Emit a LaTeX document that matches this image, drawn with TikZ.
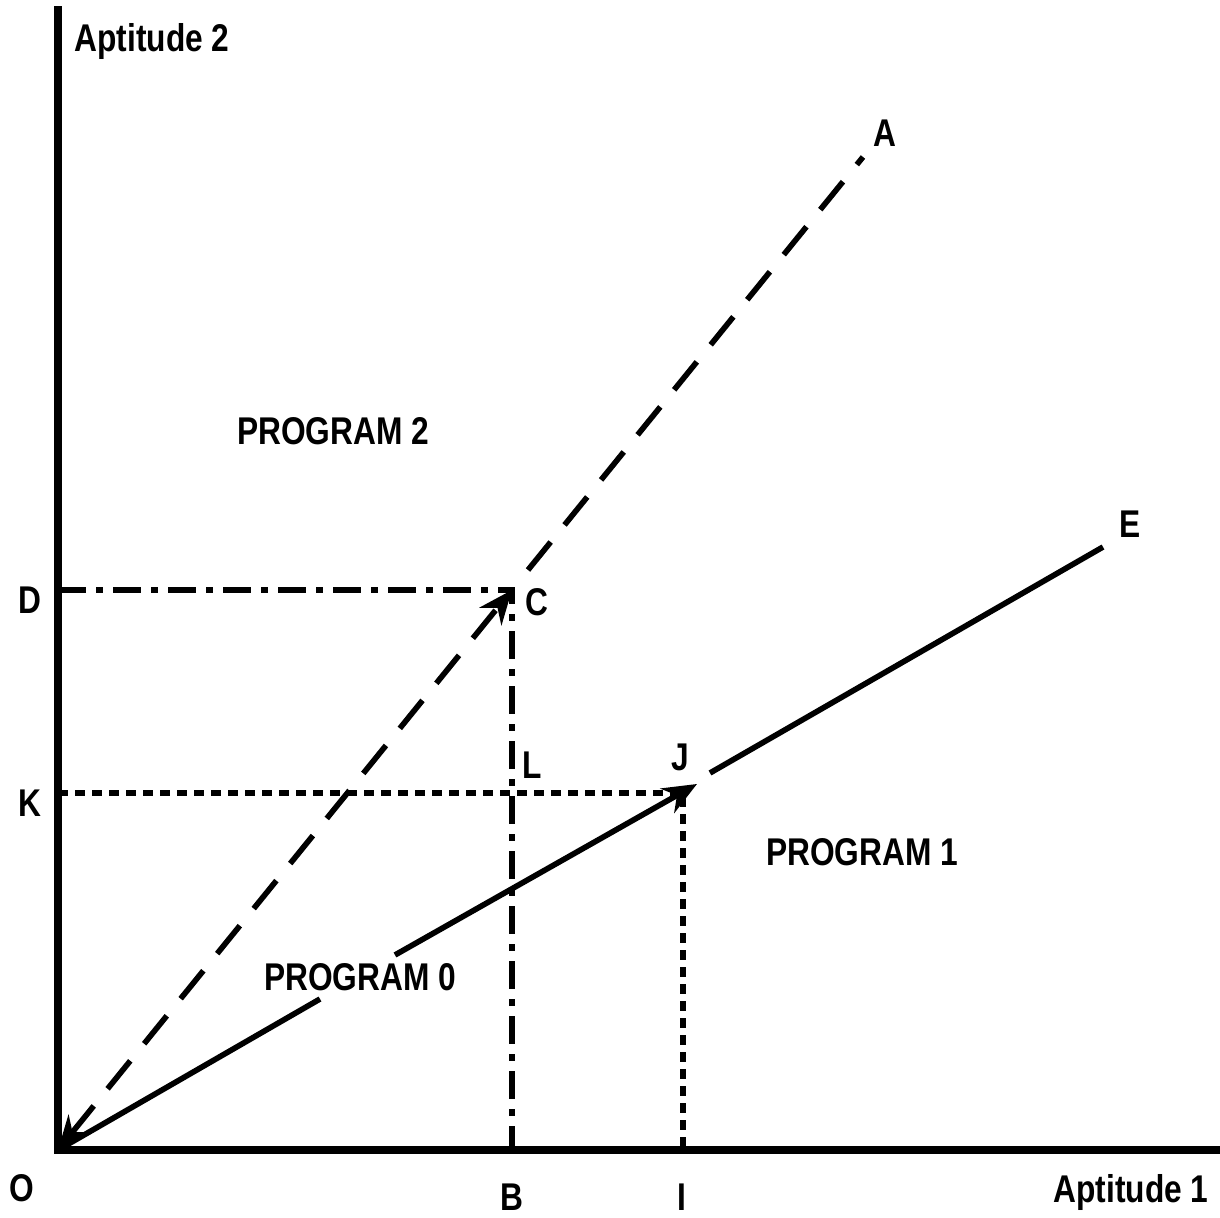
\documentclass[tikz,border=0pt]{standalone}
\usepackage{fontspec}
\setmainfont{Liberation Sans}[FakeStretch=0.82]
\usetikzlibrary{arrows.meta}

\begin{document}
\begin{tikzpicture}[
    >={Stealth[length=3.4mm, width=2.8mm]},
    axis/.style={line width=2.2pt},
    lbl/.style={font=\bfseries\fontsize{11}{13}\selectfont, inner sep=0pt},
    dashline/.style={line width=1.6pt, dash pattern=on 0.36cm off 0.22cm},
    dashdot/.style={line width=1.6pt, dash pattern=on 0.28cm off 0.1cm on 0.07cm off 0.1cm},
    dotline/.style={line width=1.6pt, dash pattern=on 0.1cm off 0.07cm},
    solidline/.style={line width=1.6pt}
]

% page frame
\useasboundingbox (-0.58,-0.68) rectangle (11.62,11.50);

% --- Key points ---
\coordinate (O) at (0,0);
\coordinate (C) at (4.54,5.60);
\coordinate (Cstart) at (4.70,5.80);
\coordinate (Aend) at (8.05,9.93);
\coordinate (J) at (6.25,3.57);
\coordinate (Jtip) at (6.39,3.66);
\coordinate (Jstart) at (6.52,3.77);
\coordinate (Eend) at (10.45,6.03);
\coordinate (Pbreak1) at (2.62,1.51);
\coordinate (Pbreak2) at (3.37,1.95);
\coordinate (Dpt) at (0,5.60);
\coordinate (Bpt) at (4.54,0);
\coordinate (Kpt) at (0,3.57);
\coordinate (Ipt) at (6.25,0);
\coordinate (Ytop) at (0,11.40);
\coordinate (Xend) at (11.62,0);

% --- Coordinate axes ---
\draw[axis, line cap=rect] (Ytop) -- (O) -- (Xend);

% --- Ray O to A (dashed) ---
\draw[dashline, <->] (O) -- (C);
\draw[dashline] (Cstart) -- (Aend);

% --- Line O to E (solid), broken at the labels ---
\draw[solidline] (O) -- (Pbreak1);
\draw[solidline, ->] (Pbreak2) -- (Jtip);
\draw[solidline] (Jstart) -- (Eend);

% --- Guide lines to the axes ---
\draw[dashdot] (Dpt) -- (C) -- (Bpt);
\draw[dotline] (Kpt) -- (J) -- (Ipt);

% --- Labels ---
\node[lbl] (aptY) at (0.94,11.08) {Aptitude 2};
\node[lbl] (aptX) at (10.73,-0.43) {Aptitude 1};
\node[lbl] (labA) at (8.27,10.17) {A};
\node[lbl] (labE) at (10.72,6.26) {E};
\node[lbl] (labD) at (-0.28,5.50) {D};
\node[lbl] (labC) at (4.79,5.48) {C};
\node[lbl] (labK) at (-0.28,3.47) {K};
\node[lbl] (labL) at (4.74,3.85) {L};
\node[lbl] (labJ) at (6.22,3.93) {J};
\node[lbl] (labO) at (-0.36,-0.38) {O};
\node[lbl] (labB) at (4.54,-0.47) {B};
\node[lbl] (labI) at (6.24,-0.47) {I};
\node[lbl] (prog2) at (2.75,7.19) {PROGRAM 2};
\node[lbl] (prog1) at (8.04,2.98) {PROGRAM 1};
\node[lbl] (prog0) at (3.02,1.73) {PROGRAM 0};

\end{tikzpicture}
\end{document}
